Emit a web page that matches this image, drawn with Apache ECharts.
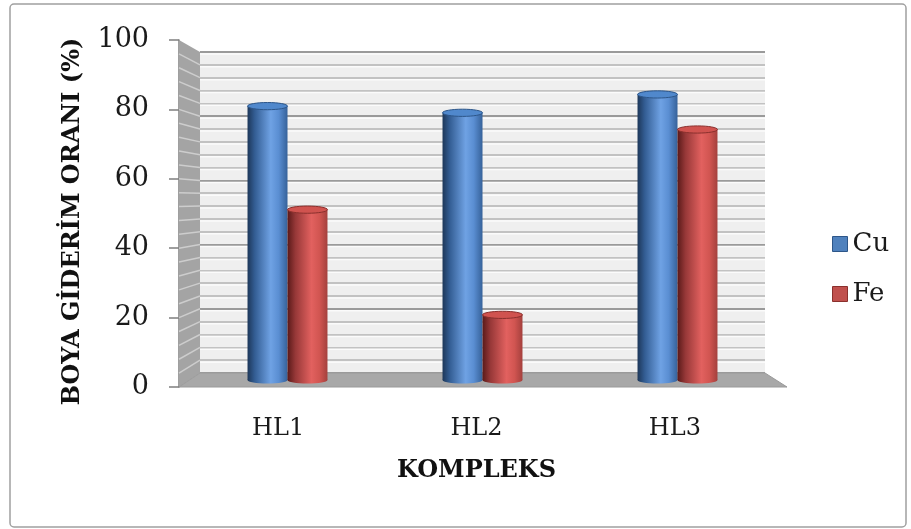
<!DOCTYPE html>
<html>
<head>
<meta charset="utf-8">
<script src="https://cdn.jsdelivr.net/npm/echarts@6/dist/echarts.min.js"></script>
<style>
  html, body { margin: 0; padding: 0; background: #ffffff; }
  #chart { width: 911px; height: 529px; }
</style>
</head>
<body>
<div id="chart"></div>
<script>
// Dye removal ratio per complex, for the Cu and Fe metal centres
const categories = ['HL1', 'HL2', 'HL3'];
const cuValues = [82, 80, 85.5];
const feValues = [51, 19.5, 75];
const seriesNames = ['Cu', 'Fe'];
const yAxisTitle = 'BOYA GİDERİM ORANI (%)';
const xAxisTitle = 'KOMPLEKS';

const W = 911, H = 529;
const SERIF = '"DejaVu Serif", "Liberation Serif", serif';

// Box layout: front plane (axis labels), back wall, and the middle plane the cylinders stand in
const FRONT = { left: 179, right: W - 774, top: 40, bottom: H - 387 };
const BACK = { left: 200, right: W - 765, top: 52, bottom: H - 373 };
const MID = { left: 190, right: W - 775, top: 46, bottom: H - 380 };
const FLOOR_FRONT_RIGHT = 787;
const BAR_FRACTION = 0.205;

const palette = {
  Cu: {
    body: [[0, '#1d3759'], [0.18, '#335d93'], [0.58, '#6fa2e4'], [0.78, '#5a8ed2'], [1, '#36629a']],
    top: '#5088cc', edge: '#2d5689', legend: '#4f81bd'
  },
  Fe: {
    body: [[0, '#5a1a19'], [0.2, '#973838'], [0.6, '#e2615f'], [0.8, '#d15551'], [1, '#a4403d']],
    top: '#d0534f', edge: '#8a302d', legend: '#c0504d'
  }
};

function cylinderRenderer(name, sideOffset) {
  const p = palette[name];
  return function (params, api) {
    const idx = api.value(0);
    const val = api.value(1);
    const top = api.coord([idx, val]);
    const base = api.coord([idx, 0]);
    const band = api.size([1, 0])[0];
    const w = band * BAR_FRACTION;
    const cx = top[0] + sideOffset * w / 2;
    const rx = w / 2, ry = 3.6;
    const grad = () => new echarts.graphic.LinearGradient(0, 0, 1, 0,
      p.body.map(s => ({ offset: s[0], color: s[1] })));
    return {
      type: 'group',
      children: [
        { type: 'ellipse', shape: { cx: cx, cy: base[1], rx: rx, ry: ry }, style: { fill: grad() } },
        { type: 'rect', shape: { x: cx - rx, y: top[1], width: w, height: base[1] - top[1] }, style: { fill: grad() } },
        { type: 'ellipse', shape: { cx: cx, cy: top[1], rx: rx, ry: ry }, style: { fill: p.top, stroke: p.edge, lineWidth: 1 } }
      ]
    };
  };
}

const chart = echarts.init(document.getElementById('chart'), null, { renderer: 'canvas' });

const option = {
  animation: false,
  backgroundColor: '#ffffff',
  grid: [
    Object.assign({ containLabel: false }, FRONT),
    Object.assign({ containLabel: false, show: true, backgroundColor: '#efefef', borderWidth: 0 }, BACK),
    Object.assign({ containLabel: false }, MID)
  ],
  legend: {
    orient: 'vertical',
    left: 827,
    top: 226,
    itemWidth: 15,
    itemHeight: 15,
    itemGap: 24,
    icon: 'rect',
    textStyle: { fontFamily: SERIF, fontSize: 26, color: '#1a1a1a' },
    data: seriesNames.map(n => ({
      name: n,
      itemStyle: { color: palette[n].legend, borderColor: palette[n].edge, borderWidth: 1 }
    }))
  },
  xAxis: [
    {
      gridIndex: 0, type: 'category', data: categories,
      axisLine: { show: false }, axisTick: { show: false },
      axisLabel: { fontFamily: SERIF, fontSize: 24, color: '#1a1a1a', margin: 30 },
      name: xAxisTitle, nameLocation: 'middle', nameGap: 72,
      nameTextStyle: { fontFamily: SERIF, fontSize: 24, fontWeight: 'bold', color: '#111' }
    },
    { gridIndex: 1, type: 'category', data: categories, show: false },
    { gridIndex: 2, type: 'category', data: categories, show: false }
  ],
  yAxis: [
    {
      gridIndex: 0, type: 'value', min: 0, max: 100, interval: 20,
      axisLine: { show: true, lineStyle: { color: '#7f7f7f', width: 1.5 } },
      axisTick: { show: true, length: 10, lineStyle: { color: '#7f7f7f', width: 1.5 } },
      splitLine: { show: false },
      axisLabel: { fontFamily: SERIF, fontSize: 27, color: '#1a1a1a', margin: 30 },
      name: yAxisTitle, nameLocation: 'middle', nameGap: 94,
      nameTextStyle: { fontFamily: SERIF, fontSize: 24, fontWeight: 'bold', color: '#111', padding: [0, 16, 0, 0] }
    },
    {
      gridIndex: 1, type: 'value', min: 0, max: 100, interval: 4,
      axisLine: { show: false }, axisTick: { show: false }, axisLabel: { show: false },
      splitLine: {
        show: true,
        lineStyle: { color: ['#9a9a9a', '#c2c2c2', '#c2c2c2', '#c2c2c2', '#c2c2c2'], width: 2 }
      }
    },
    { gridIndex: 2, type: 'value', min: 0, max: 100, show: false, splitLine: { show: false } }
  ],
  series: [
    {
      name: 'Cu', type: 'custom', xAxisIndex: 2, yAxisIndex: 2,
      itemStyle: { color: palette.Cu.legend },
      renderItem: cylinderRenderer('Cu', -1),
      data: cuValues.map((v, i) => [i, v]),
      z: 5
    },
    {
      name: 'Fe', type: 'custom', xAxisIndex: 2, yAxisIndex: 2,
      itemStyle: { color: palette.Fe.legend },
      renderItem: cylinderRenderer('Fe', 1),
      data: feValues.map((v, i) => [i, v]),
      z: 5
    }
  ]
};

chart.setOption(option);

// Side wall, floor and outer frame, placed from the front and back value axes
function buildBox() {
  const frontY = v => chart.convertToPixel({ yAxisIndex: 0 }, v);
  const backY = v => chart.convertToPixel({ yAxisIndex: 1 }, v);
  const fx = FRONT.left, bx = BACK.left, brx = W - BACK.right;
  const els = [];

  // highlight under each back-wall grid line
  for (let v = 0; v <= 100; v += 4) {
    const y = backY(v) + 2;
    els.push({ type: 'line', z: 1, shape: { x1: bx, y1: y, x2: brx, y2: y },
      style: { stroke: '#fbfbfb', lineWidth: 1.5 } });
  }

  // left side wall
  els.push({
    type: 'polygon', z: 1,
    shape: { points: [[fx, frontY(100)], [bx, backY(100)], [bx, backY(0)], [fx, frontY(0)]] },
    style: { fill: '#a4a4a4' }
  });
  for (let v = 4; v < 100; v += 4) {
    els.push({ type: 'line', z: 1, shape: { x1: fx, y1: frontY(v), x2: bx, y2: backY(v) },
      style: { stroke: '#cdcdcd', lineWidth: 1.5 } });
  }

  // floor
  els.push({
    type: 'polygon', z: 1,
    shape: { points: [[fx, frontY(0)], [FLOOR_FRONT_RIGHT, frontY(0)], [brx, backY(0)], [bx, backY(0)]] },
    style: { fill: '#a8a8a8', stroke: '#9a9a9a', lineWidth: 1 }
  });

  // outer frame
  els.push({
    type: 'rect', z: 0,
    shape: { x: 10, y: 4, width: W - 15, height: H - 6, r: 4 },
    style: { fill: 'none', stroke: '#a0a0a0', lineWidth: 1.5 }
  });

  chart.setOption({ graphic: { elements: els } });
}
buildBox();
</script>
</body>
</html>
